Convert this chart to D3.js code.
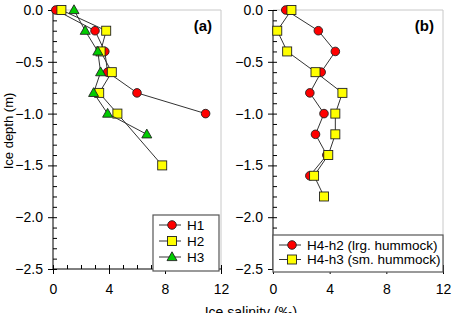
<!DOCTYPE html>
<html>
<head>
<meta charset="utf-8">
<script src="https://cdn.jsdelivr.net/npm/d3@7"></script>
<style>
  body { margin: 0; background: #fff; }
  svg { display: block; font-family: "Liberation Sans", Arial, sans-serif; }
  .tick text { font-size: 14px; fill: #000; }
</style>
</head>
<body>
<script>
// data (salinity in per mille, depth in m)
const depthH1 = [0, -0.2, -0.4, -0.6, -0.8, -1.0];
const salH1 = [0.2, 3.0, 3.7, 3.9, 6.0, 10.9];
const depthH2 = [0, -0.2, -0.4, -0.6, -0.8, -1.0, -1.5];
const salH2 = [0.6, 3.8, 3.4, 4.2, 3.3, 4.6, 7.8];
const depthH3 = [0, -0.2, -0.4, -0.6, -0.8, -1.0, -1.2];
const salH3 = [1.5, 2.3, 3.2, 3.4, 2.9, 3.9, 6.7];
const depthH4h2 = [0, -0.2, -0.4, -0.6, -0.8, -1.0, -1.2, -1.4, -1.6];
const salH4h2 = [0.9, 3.2, 4.4, 3.4, 2.6, 3.6, 3.0, 3.8, 2.6];
const depthH4h3 = [0, -0.2, -0.4, -0.6, -0.8, -1.0, -1.2, -1.4, -1.6, -1.8];
const salH4h3 = [1.3, 0.3, 1.0, 3.0, 4.9, 4.4, 4.4, 3.9, 2.9, 3.6];

const xTicks = [0, 4, 8, 12];
const yTicks = [0, -0.5, -1.0, -1.5, -2.0, -2.5];

const W = 453, H = 313;
const plotTop = 10, plotBottom = 269;
const red = '#ff0000', yellow = '#ffff00', green = '#00cc00';

const svg = d3.select('body').append('svg')
  .attr('width', W).attr('height', H);

const zip = (xs, ys) => xs.map((v, i) => ({ x: v, y: ys[i] }));

function marker(g, shape, fill) {
  if (shape === 'circle') {
    g.append('circle').attr('r', 4.3);
  } else if (shape === 'square') {
    g.append('rect').attr('x', -4.5).attr('y', -4.5).attr('width', 9).attr('height', 9);
  } else {
    g.append('path').attr('d', 'M0,-5.2L5,3.6L-5,3.6Z');
  }
  g.selectAll('*').attr('fill', fill).attr('stroke', '#222').attr('stroke-width', 0.9);
}

function panel(left, right, label, series) {
  const x = d3.scaleLinear().domain([0, 12]).range([left, right]);
  const y = d3.scaleLinear().domain([0, -2.5]).range([plotTop, plotBottom]);
  const g = svg.append('g');

  // light frame top/right
  g.append('path')
    .attr('d', `M${left},${plotTop}H${right}V${plotBottom}`)
    .attr('fill', 'none').attr('stroke', '#c8c8c8');

  // minor ticks inward
  g.append('g').attr('transform', `translate(${left},0)`)
    .call(d3.axisRight(y).tickValues(d3.range(0, 26).map((i) => -i / 10)).tickSize(4).tickFormat(''))
    .call((a) => a.select('.domain').remove());
  g.append('g').attr('transform', `translate(0,${plotBottom})`)
    .call(d3.axisTop(x).tickValues(d3.range(0, 13)).tickSize(4).tickFormat(''))
    .call((a) => a.select('.domain').remove());

  // major axes
  g.append('g').attr('transform', `translate(${left},0)`)
    .call(d3.axisLeft(y).tickValues(yTicks).tickSize(5).tickPadding(5).tickFormat(d3.format('.1f')))
    .call((a) => a.select('.domain').attr('d', `M0,${plotTop}V${plotBottom}`));
  g.append('g').attr('transform', `translate(0,${plotBottom})`)
    .call(d3.axisBottom(x).tickValues(xTicks).tickSize(5).tickPadding(10).tickFormat(d3.format('d')))
    .call((a) => a.select('.domain').attr('d', `M${left},0H${right}`));
  g.selectAll('.tick line, .domain').attr('stroke', '#000');

  g.append('text')
    .attr('x', right - 9).attr('y', plotTop + 21)
    .attr('text-anchor', 'end')
    .attr('font-size', 15).attr('font-weight', 'bold')
    .text(label);

  const line = d3.line().x((d) => x(d.x)).y((d) => y(d.y));
  series.forEach((s) => {
    const pts = zip(s.sal, s.depth);
    g.append('path').datum(pts)
      .attr('d', line).attr('fill', 'none')
      .attr('stroke', '#333').attr('stroke-width', 1);
    g.selectAll(null).data(pts).join('g')
      .attr('transform', (d) => `translate(${x(d.x)},${y(d.y)})`)
      .each(function drawMarker() { marker(d3.select(this), s.shape, s.color); });
  });
  return { x, y };
}

panel(53, 221, '(a)', [
  { sal: salH1, depth: depthH1, shape: 'circle', color: red },
  { sal: salH2, depth: depthH2, shape: 'square', color: yellow },
  { sal: salH3, depth: depthH3, shape: 'triangle', color: green },
]);
panel(273, 443, '(b)', [
  { sal: salH4h2, depth: depthH4h2, shape: 'circle', color: red },
  { sal: salH4h3, depth: depthH4h3, shape: 'square', color: yellow },
]);

// legends
function legend(x0, y0, w, rowH, items) {
  const g = svg.append('g').attr('transform', `translate(${x0},${y0})`);
  g.append('rect').attr('width', w).attr('height', items.length * rowH + 8)
    .attr('fill', '#fff').attr('stroke', '#555').attr('stroke-width', 1.2);
  const rows = g.selectAll(null).data(items).join('g')
    .attr('transform', (d, i) => `translate(6,${10 + i * rowH})`);
  rows.append('line').attr('x1', 0).attr('x2', 22).attr('stroke', '#333');
  rows.append('g').attr('transform', 'translate(13,0)')
    .each(function drawMarker(d) { marker(d3.select(this), d.shape, d.color); });
  rows.append('text').attr('x', 28).attr('y', 4.5)
    .attr('font-size', 13.5).text((d) => d.name);
}
legend(153, 215, 66, 16, [
  { name: 'H1', shape: 'circle', color: red },
  { name: 'H2', shape: 'square', color: yellow },
  { name: 'H3', shape: 'triangle', color: green },
]);
legend(273, 235, 170, 14.5, [
  { name: 'H4-h2 (lrg. hummock)', shape: 'circle', color: red },
  { name: 'H4-h3 (sm. hummock)', shape: 'square', color: yellow },
]);

// axis titles
svg.append('text')
  .attr('transform', 'translate(13,131) rotate(-90)')
  .attr('text-anchor', 'middle').attr('font-size', 13)
  .text('Ice depth (m)');
svg.append('text')
  .attr('x', 251).attr('y', 317)
  .attr('text-anchor', 'middle').attr('font-size', 14)
  .text('Ice salinity (‰)');
</script>
</body>
</html>
